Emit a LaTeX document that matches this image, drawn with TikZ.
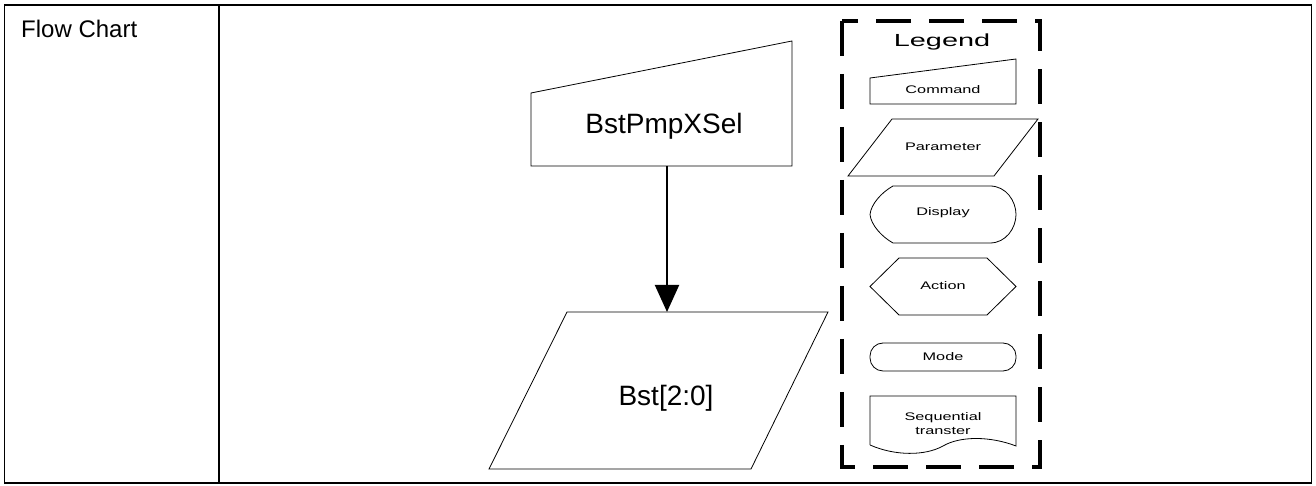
\documentclass[tikz,border=0pt]{standalone}
\usepackage{fontspec}
\setmainfont{Liberation Sans}
\usepackage{tikz}
\usetikzlibrary{positioning, arrows.meta, calc}
\newcommand{\legtxt}[1]{\scalebox{1.48}[1]{#1}}

\begin{document}
\begin{tikzpicture}[x=1pt, y=1pt,
  frameline/.style={line width=1.5pt, draw=black},
  shapeline/.style={line width=0.8pt, draw=black, line join=miter},
  hold/.style={rectangle, inner sep=0pt, outer sep=0pt, draw=none},
  bigtext/.style={inner sep=0pt, font=\fontsize{28}{32}\selectfont},
  legtext/.style={inner sep=0pt, align=center, font=\fontsize{11}{14}\selectfont},
  legendbox/.style={line width=4pt, dash pattern=on 35pt off 18pt},
  flow/.style={-{Triangle[length=27pt, width=24pt]}, line width=2pt}
]
  \useasboundingbox (0,0) rectangle (1316,486);
  \draw[frameline] (4.5,3) rectangle (1311.5,481);
  \draw[frameline] (219,3) -- (219,481);
  \node[inner sep=0pt, anchor=base west, font=\fontsize{24}{28}\selectfont] (title) at (21,448) {Flow Chart};

  \node[hold, minimum width=261pt, minimum height=125pt] (sel) at (661.5,382.5) {};
  \draw[shapeline] (sel.south west) -- (sel.south east) -- (sel.north east)
    -- ([yshift=-52pt]sel.north west) -- cycle;
  \node[bigtext] (seltext) at (664,360) {BstPmpXSel};

  \node[hold, minimum width=339pt, minimum height=157pt] (bst) at (658.5,95.5) {};
  \draw[shapeline] ([xshift=78pt]bst.north west) -- (bst.north east)
    -- ([xshift=-77pt]bst.south east) -- (bst.south west) -- cycle;
  \node[bigtext] (bsttext) at (666,88) {Bst[2:0]};

  \draw[flow] ([xshift=5.5pt]sel.south) -- ([xshift=5.5pt]sel.south |- bst.north);

  \draw[legendbox] (842,465) -- (842,19) -- (1040,19) -- (1040,465) -- cycle;
  \node[inner sep=0pt, font=\fontsize{17.5}{20}\selectfont] (legend) at (942,444) {\scalebox{1.65}[1]{Legend}};

  \draw[shapeline] (870,382) -- (1016,382) -- (1016,427) -- (870,408) -- cycle;
  \node[legtext] (command) at (943,396) {\legtxt{Command}};

  \draw[shapeline] (892,367) -- (1038,367) -- (994,310) -- (848,310) -- cycle;
  \node[legtext] (parameter) at (943,339) {\legtxt{Parameter}};

  \draw[shapeline] (990,300) -- (893,300) .. controls (882,294) and (871,282) .. (870,271.5)
    .. controls (871,261) and (882,249) .. (893,243) -- (990,243)
    .. controls (1006,243) and (1016,258) .. (1016,271.5)
    .. controls (1016,285) and (1006,300) .. (990,300);
  \node[legtext] (display) at (943,273) {\legtxt{Display}};

  \draw[shapeline] (870,199.5) -- (899,228) -- (987,228) -- (1016,199.5) -- (987,171) -- (899,171) -- cycle;
  \node[legtext] (action) at (943,200) {\legtxt{Action}};

  \draw[shapeline, rounded corners=13pt] (870,115) rectangle (1016,143);
  \node[legtext] (mode) at (943,129) {\legtxt{Mode}};

  \draw[shapeline] (870,41) -- (870,90) -- (1016,90) -- (1016,40)
    .. controls (990,50) and (960,50) .. (943,40)
    .. controls (925,30) and (895,30) .. (870,41);
  \node[legtext] (seq) at (943,62.5) {\legtxt{Sequential}\\\legtxt{transter}};
\end{tikzpicture}
\end{document}
